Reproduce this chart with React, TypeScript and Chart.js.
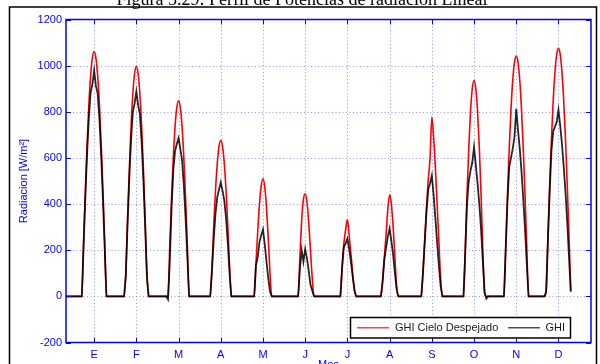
import React, { useEffect, useRef } from "react";
import { Chart, registerables } from "chart.js";

Chart.register(...registerables);

const monthLabels = ["E", "F", "M", "A", "M", "J", "J", "A", "S", "O", "N", "D"];
const yTickValues = [-200, 0, 200, 400, 600, 800, 1000, 1200];
const hoursPerDay = 24;
const tickHourOfDay = 16;
const titleText = "Figura 3.29: Perfil de Potencias de radiación Lineal";
const yTitle = "Radiacion [W/m²]";
const xTitle = "Mes";
const legendLabels = ["GHI Cielo Despejado", "GHI"];

// hourly values (one row per representative day of each month)
const ghiCieloDespejado: number[][] = [
  [0,0,0,0,0,0,0,0,0,0,237,460,661,830,956,1034,1061,1034,956,830,661,460,237,0],
  [0,0,0,0,0,0,0,0,0,0,98,336,554,738,878,966,996,966,878,738,554,336,98,0],
  [0,0,0,0,0,0,0,0,0,0,0,220,424,600,734,819,848,819,734,600,424,220,0,0],
  [0,0,0,0,0,0,0,0,0,0,0,130,305,458,576,650,676,650,576,458,305,130,0,0],
  [0,0,0,0,0,0,0,0,0,0,0,0,140,280,400,480,510,475,385,250,100,0,0,0],
  [0,0,0,0,0,0,0,0,0,0,0,0,0,170,330,420,445,410,320,200,80,0,0,0],
  [0,0,0,0,0,0,0,0,0,0,0,0,0,130,230,290,333,265,185,100,30,0,0,0],
  [0,0,0,0,0,0,0,0,0,0,0,0,70,170,270,380,440,400,300,170,40,0,0,0],
  [0,0,0,0,0,0,0,0,0,0,0,110,250,390,510,600,777,690,560,400,240,80,0,0],
  [0,0,0,0,0,0,0,0,0,0,0,201,438,643,801,901,935,901,801,643,438,201,20,0],
  [0,0,0,0,0,0,0,0,0,0,212,437,639,809,936,1015,1042,1015,936,809,639,437,212,0],
  [0,0,0,0,0,0,0,0,0,24,258,482,680,847,971,1049,1075,1049,971,847,680,482,258,24],
];

const ghi: number[][] = [
  [0,0,0,0,0,0,0,0,0,0,220,430,620,775,885,918,979,912,880,770,610,420,210,0],
  [0,0,0,0,0,0,0,0,0,0,90,310,515,680,800,835,888,830,790,670,505,305,85,0],
  [0,0,0,0,0,0,0,0,0,0,-13,150,380,545,630,660,686,640,590,480,340,170,0,0],
  [0,0,0,0,0,0,0,0,0,0,0,110,250,360,430,462,494,458,415,340,230,100,0,0],
  [0,0,0,0,0,0,0,0,0,0,0,0,135,170,235,265,290,225,150,80,20,0,0,0],
  [0,0,0,0,0,0,0,0,0,0,0,0,0,120,200,150,205,165,110,50,25,0,0,0],
  [0,0,0,0,0,0,0,0,0,0,0,0,0,125,215,230,250,205,150,85,25,0,0,0],
  [0,0,0,0,0,0,0,0,0,0,0,0,60,160,210,260,293,240,180,100,30,0,0,0],
  [0,0,0,0,0,0,0,0,0,0,0,105,240,370,465,490,523,440,340,235,135,45,0,0],
  [0,0,0,0,0,0,0,0,0,0,0,190,400,500,545,580,647,570,490,400,290,150,15,-10],
  [0,0,0,0,0,0,0,0,0,0,200,410,560,600,640,690,813,720,640,540,420,290,140,0],
  [0,0,0,0,0,0,0,0,0,20,240,450,630,715,735,755,808,740,660,560,450,320,170,20],
];

const tickHours = monthLabels.map((_, i) => i * hoursPerDay + tickHourOfDay);

const toPoints = (rows: number[][]) =>
  rows.flatMap((row, d) => row.map((v, h) => ({ x: d * hoursPerDay + h, y: v })));

const BLUE = "#0000ff";
const SANS = '"Liberation Sans", Arial, sans-serif';

const decoPlugin = {
  id: "deco",
  beforeDatasetsDraw(chart: any) {
    const { ctx, chartArea: a, scales } = chart;
    const xs = scales.x;
    const ys = scales.y;
    ctx.save();
    ctx.strokeStyle = "rgba(110,110,255,0.75)";
    ctx.lineWidth = 1;
    ctx.setLineDash([1, 2.5]);
    for (const t of tickHours) {
      const px = Math.round(xs.getPixelForValue(t)) + 0.5;
      ctx.beginPath();
      ctx.moveTo(px, a.top);
      ctx.lineTo(px, a.bottom);
      ctx.stroke();
    }
    for (const v of yTickValues) {
      if (v === yTickValues[0] || v === yTickValues[yTickValues.length - 1]) continue;
      const py = Math.round(ys.getPixelForValue(v)) + 0.5;
      ctx.beginPath();
      ctx.moveTo(a.left, py);
      ctx.lineTo(a.right, py);
      ctx.stroke();
    }
    ctx.restore();
  },
  afterDatasetsDraw(chart: any) {
    const { ctx, chartArea: a, scales } = chart;
    const xs = scales.x;
    const ys = scales.y;
    ctx.save();
    ctx.setLineDash([]);
    ctx.strokeStyle = BLUE;
    ctx.lineWidth = 1.5;
    ctx.strokeRect(a.left, a.top, a.right - a.left, a.bottom - a.top);
    const tl = 5;
    ctx.lineWidth = 1;
    for (const t of tickHours) {
      const px = Math.round(xs.getPixelForValue(t)) + 0.5;
      ctx.beginPath();
      ctx.moveTo(px, a.bottom);
      ctx.lineTo(px, a.bottom - tl);
      ctx.moveTo(px, a.top);
      ctx.lineTo(px, a.top + tl);
      ctx.stroke();
    }
    for (const v of yTickValues) {
      const py = Math.round(ys.getPixelForValue(v)) + 0.5;
      ctx.beginPath();
      ctx.moveTo(a.left, py);
      ctx.lineTo(a.left + tl, py);
      ctx.moveTo(a.right, py);
      ctx.lineTo(a.right - tl, py);
      ctx.stroke();
    }
    // legend
    const lx = 350.5, ly = 317.5, lw = 220, lh = 20.5;
    ctx.fillStyle = "#ffffff";
    ctx.fillRect(lx, ly, lw, lh);
    ctx.strokeStyle = "#000000";
    ctx.lineWidth = 1.5;
    ctx.strokeRect(lx, ly, lw, lh);
    const cy = ly + lh / 2;
    ctx.lineWidth = 1.5;
    ctx.strokeStyle = "#ff4040";
    ctx.beginPath();
    ctx.moveTo(357, cy);
    ctx.lineTo(389, cy);
    ctx.stroke();
    ctx.strokeStyle = "#505050";
    ctx.beginPath();
    ctx.moveTo(508, cy);
    ctx.lineTo(540, cy);
    ctx.stroke();
    ctx.fillStyle = "#1a1a1a";
    ctx.font = `11px ${SANS}`;
    ctx.textBaseline = "middle";
    ctx.textAlign = "left";
    ctx.fillText(legendLabels[0], 395, cy + 0.5);
    ctx.fillText(legendLabels[1], 545.5, cy + 0.5);
    ctx.restore();
  },
  afterDraw(chart: any) {
    const { ctx, chartArea: a } = chart;
    ctx.save();
    // figure frame
    ctx.strokeStyle = "#000000";
    ctx.lineWidth = 1.5;
    ctx.strokeRect(9.5, 7, 587, 420);
    // title (cut off at the top)
    ctx.fillStyle = "#000000";
    ctx.font = `18px "Liberation Serif", "DejaVu Serif", serif`;
    ctx.textAlign = "center";
    ctx.textBaseline = "alphabetic";
    ctx.fillText(titleText, 302, 4.5);
    // axis titles
    ctx.fillStyle = BLUE;
    ctx.font = `11px ${SANS}`;
    ctx.textBaseline = "middle";
    ctx.save();
    ctx.translate(24, (a.top + a.bottom) / 2);
    ctx.rotate(-Math.PI / 2);
    ctx.textAlign = "center";
    ctx.fillText(yTitle, 0, 0);
    ctx.restore();
    ctx.textAlign = "center";
    ctx.textBaseline = "top";
    ctx.fillText(xTitle, (a.left + a.right) / 2, 359.5);
    ctx.restore();
  },
};

export default function App() {
  const canvasRef = useRef<HTMLCanvasElement | null>(null);

  useEffect(() => {
    document.body.style.margin = "0";
    const canvas = canvasRef.current;
    if (!canvas) return;
    const chart = new Chart(canvas, {
      type: "line",
      data: {
        datasets: [
          {
            label: legendLabels[0],
            data: toPoints(ghiCieloDespejado),
            borderColor: "#ff0000",
            borderWidth: 1.6,
            pointRadius: 0,
            cubicInterpolationMode: "monotone",
            order: 2,
          },
          {
            label: legendLabels[1],
            data: toPoints(ghi),
            borderColor: "rgba(0,0,0,0.85)",
            borderWidth: 1.8,
            pointRadius: 0,
            tension: 0,
            order: 1,
          },
        ],
      },
      options: {
        animation: false,
        responsive: true,
        maintainAspectRatio: false,
        devicePixelRatio: 1,
        layout: { padding: { left: 0, top: 19.5, right: 9, bottom: 0 } },
        plugins: {
          legend: { display: false },
          tooltip: { enabled: false },
          title: { display: false },
        },
        scales: {
          x: {
            type: "linear",
            min: 0,
            max: 298.5,
            grid: { display: false, drawTicks: false },
            border: { display: false },
            afterBuildTicks: (scale: any) => {
              scale.ticks = tickHours.map((v) => ({ value: v }));
            },
            afterFit: (scale: any) => {
              scale.height = 21.5;
            },
            ticks: {
              autoSkip: false,
              maxRotation: 0,
              padding: 6,
              color: BLUE,
              font: { family: SANS, size: 11 },
              callback: (_v: any, i: number) => monthLabels[i],
            },
          },
          y: {
            type: "linear",
            min: -200,
            max: 1200,
            grid: { display: false, drawTicks: false },
            border: { display: false },
            afterBuildTicks: (scale: any) => {
              scale.ticks = yTickValues.map((v) => ({ value: v }));
            },
            afterFit: (scale: any) => {
              scale.width = 66;
            },
            ticks: {
              padding: 4,
              color: BLUE,
              font: { family: SANS, size: 11 },
              callback: (v: any) => String(v),
            },
          },
        },
      },
      plugins: [decoPlugin],
    });
    return () => chart.destroy();
  }, []);

  return (
    <div style={{ position: "fixed", left: 0, top: 0, width: 600, height: 364, background: "#fff" }}>
      <canvas ref={canvasRef} />
    </div>
  );
}
